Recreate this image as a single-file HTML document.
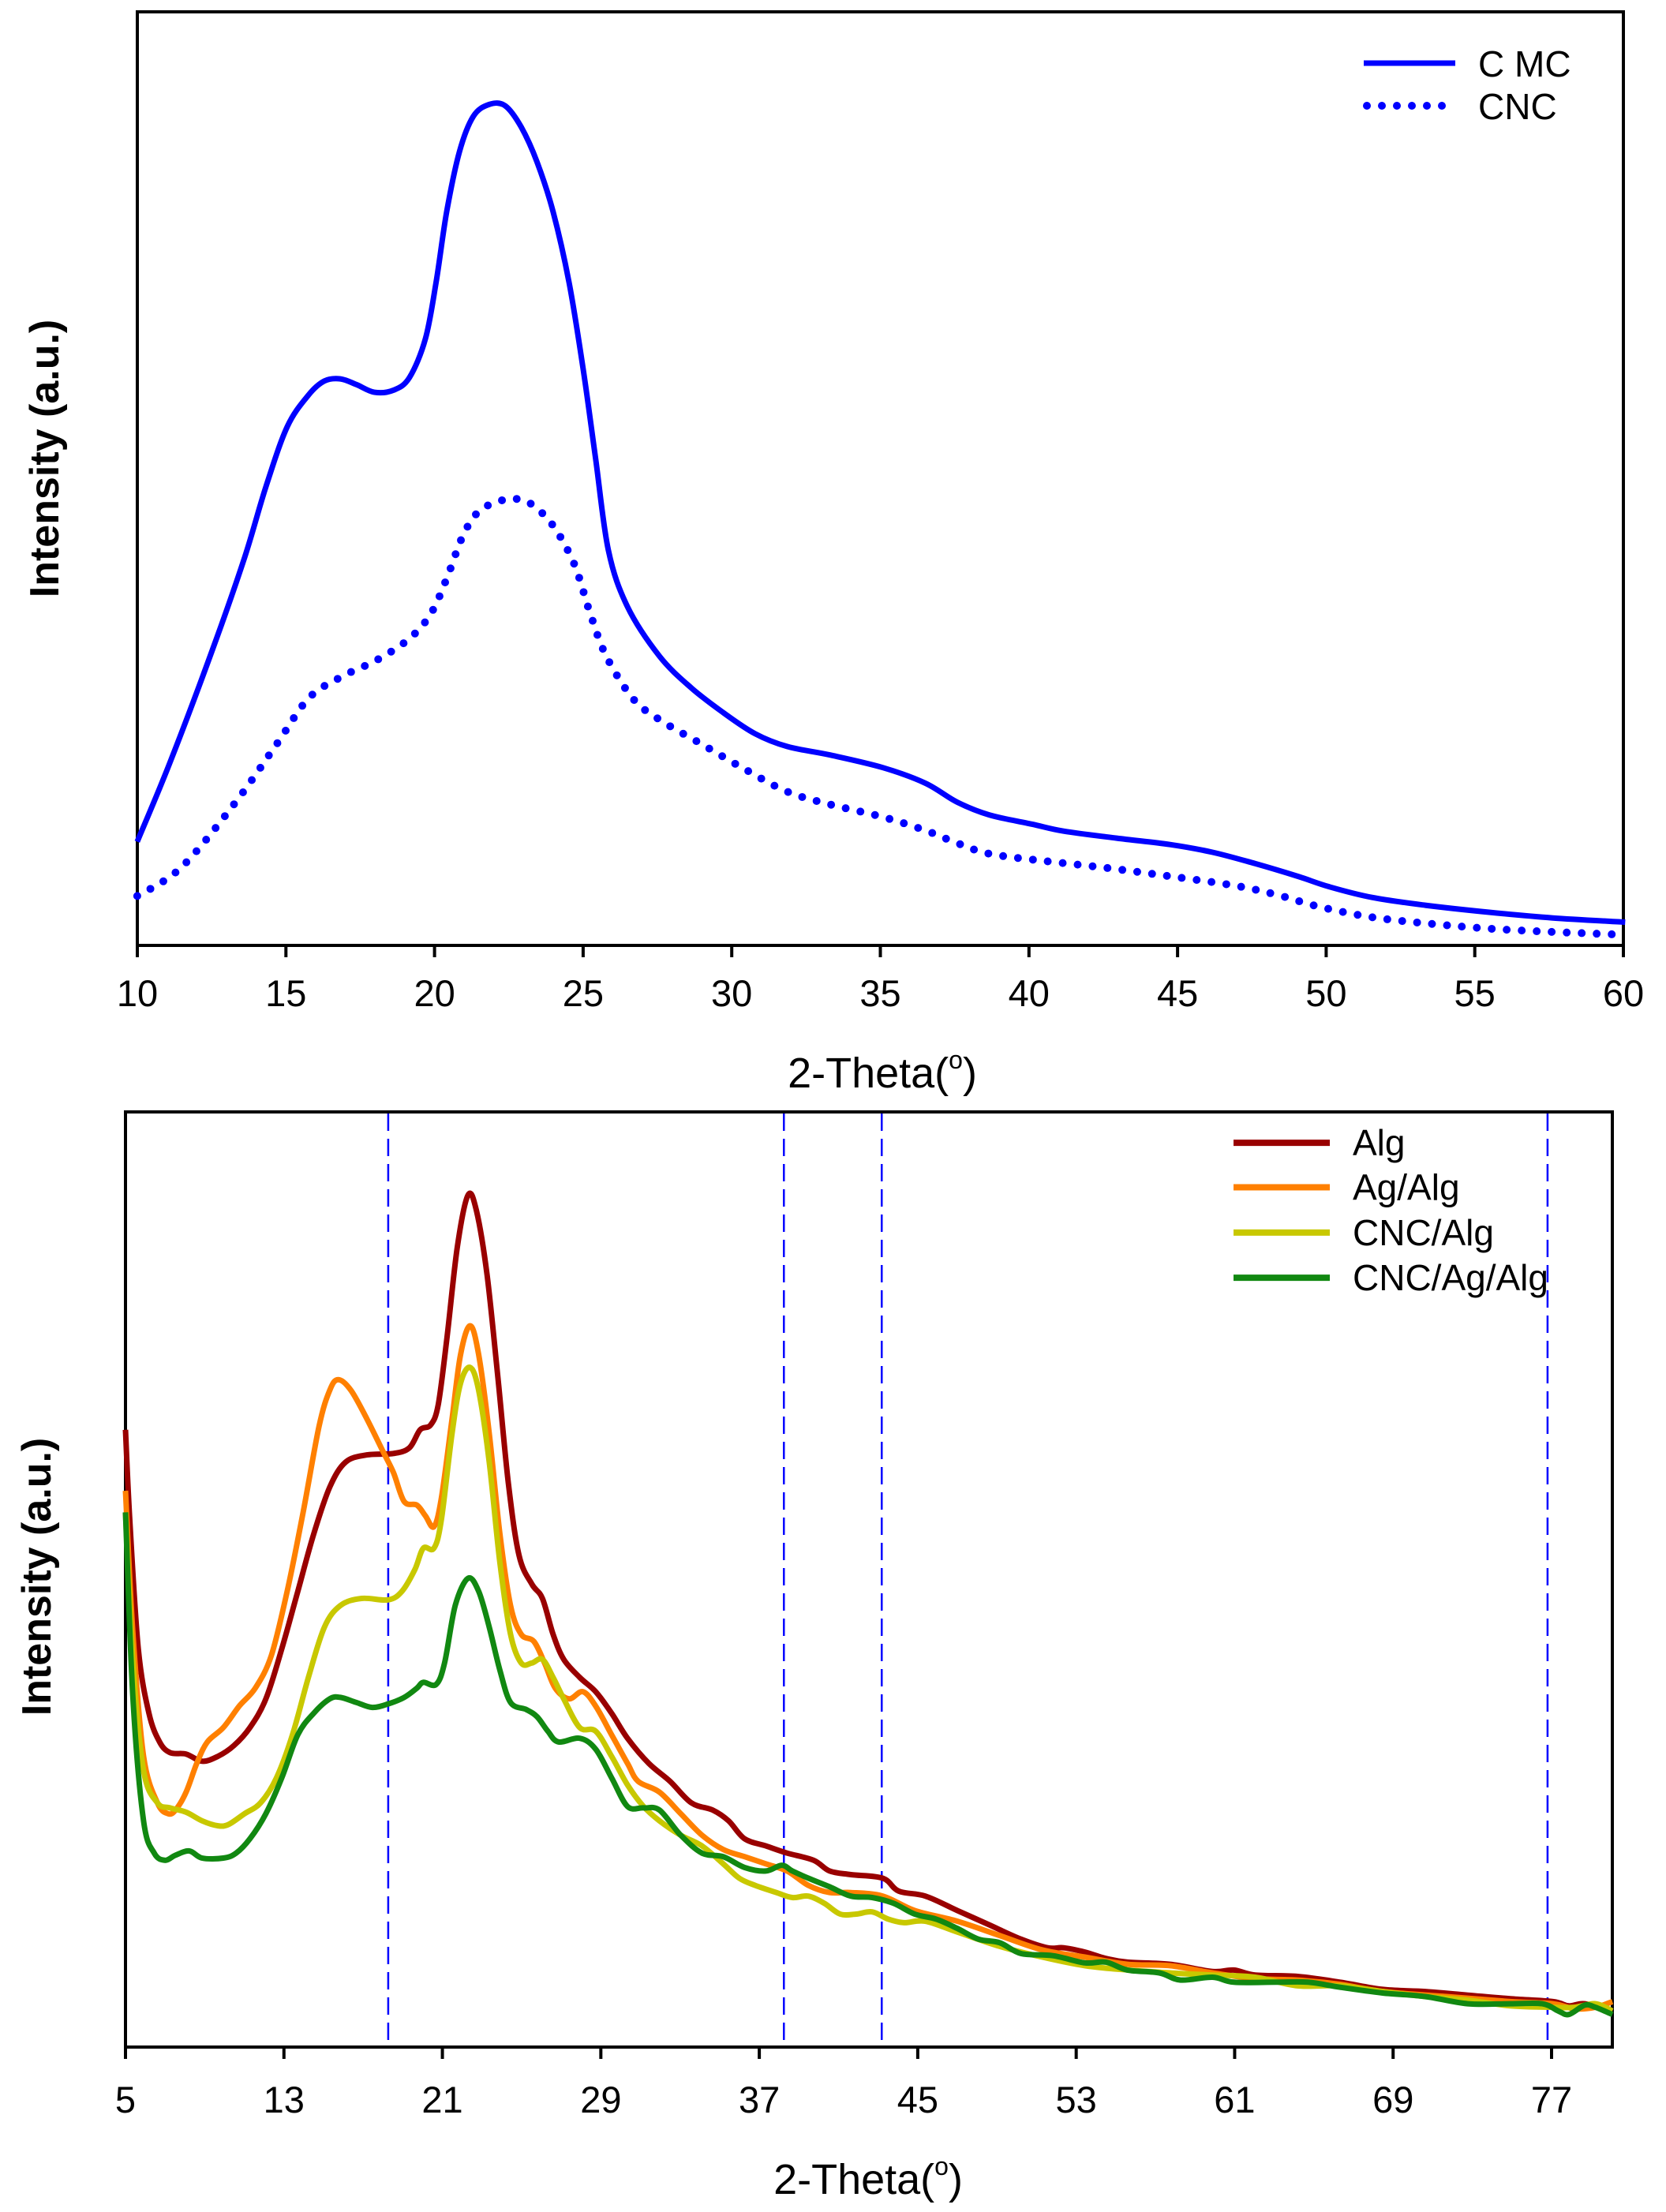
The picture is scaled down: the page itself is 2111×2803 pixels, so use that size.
<!DOCTYPE html>
<html><head><meta charset="utf-8">
<style>
html,body{margin:0;padding:0;background:#fff;}
svg{display:block;}
text{font-family:"Liberation Sans",Arial,sans-serif;fill:#000;}
</style></head>
<body>
<svg id="s" width="2111" height="2803" viewBox="0 0 2111 2803" xmlns="http://www.w3.org/2000/svg">
<rect x="0" y="0" width="2111" height="2803" fill="#fff"/>
<rect x="174" y="15" width="1883" height="1183" fill="none" stroke="#000" stroke-width="4"/>
<g id="topticks" stroke="#000" stroke-width="4"></g>
<g font-size="47" text-anchor="middle" id="toplabels"></g>
<text x="1118" y="1378" font-size="54" text-anchor="middle">2-Theta(<tspan font-size="32" dy="-24">o</tspan><tspan dy="24">)</tspan></text>
<text transform="translate(74,581) rotate(-90)" font-size="52" font-weight="bold" text-anchor="middle">Intensity (a.u.)</text>
<line x1="1728" y1="80" x2="1844" y2="80" stroke="#0000ff" stroke-width="7"/>
<line x1="1732" y1="134" x2="1844" y2="134" stroke="#0000ff" stroke-width="10" stroke-linecap="round" stroke-dasharray="0 19"/>
<text x="1873" y="97" font-size="46">C MC</text>
<text x="1873" y="151" font-size="46">CNC</text>
<g id="topcurves"></g>

<rect x="159" y="1409" width="1884" height="1185" fill="none" stroke="#000" stroke-width="4"/>
<g id="botticks" stroke="#000" stroke-width="4"></g>
<g font-size="47" text-anchor="middle" id="botlabels"></g>
<text x="1100" y="2780" font-size="54" text-anchor="middle">2-Theta(<tspan font-size="32" dy="-24">o</tspan><tspan dy="24">)</tspan></text>
<text transform="translate(64,1998) rotate(-90)" font-size="52" font-weight="bold" text-anchor="middle">Intensity (a.u.)</text>
<g id="vlines" stroke="#0000ff" stroke-width="2.5" stroke-dasharray="22 10"></g>
<g id="botcurves"></g>
<g id="botlegend"></g>
</svg>
<script>
var NS="http://www.w3.org/2000/svg";
function el(p,t,a){var e=document.createElementNS(NS,t);for(var k in a)e.setAttribute(k,a[k]);p.appendChild(e);return e;}
function smooth(pts){var d="M"+pts[0][0].toFixed(1)+","+pts[0][1].toFixed(1);
 for(var i=0;i<pts.length-1;i++){var p0=pts[i-1]||pts[i],p1=pts[i],p2=pts[i+1],p3=pts[i+2]||p2;
  var c1=[p1[0]+(p2[0]-p0[0])/6,p1[1]+(p2[1]-p0[1])/6],c2=[p2[0]-(p3[0]-p1[0])/6,p2[1]-(p3[1]-p1[1])/6];
  d+="C"+c1[0].toFixed(1)+","+c1[1].toFixed(1)+" "+c2[0].toFixed(1)+","+c2[1].toFixed(1)+" "+p2[0].toFixed(1)+","+p2[1].toFixed(1);}
 return d;}
function conv(a,sx,sy,oy){var r=[];for(var i=0;i<a.length;i+=2)r.push([a[i]/sx,oy+a[i+1]/sy]);return r;}
var tt=document.getElementById("topticks"),tl=document.getElementById("toplabels");
for(var v=10;v<=60;v+=5){var x=174+(v-10)*(2057-174)/50;el(tt,"line",{x1:x,y1:1198,x2:x,y2:1213});var t=el(tl,"text",{x:x,y:1275});t.textContent=v;}
var cmc=[129,1193,160,1080,200,920,230,790,250,690,270,605,290,560,305,540,320,537,335,545,352,556,370,553,385,535,400,480,410,400,420,300,432,215,445,165,460,148,475,150,490,180,505,230,520,300,535,400,548,520,560,650,572,780,590,860,620,930,650,975,680,1010,710,1040,740,1058,780,1070,830,1088,870,1110,900,1137,930,1155,970,1168,1000,1178,1050,1188,1100,1197,1140,1208,1180,1224,1220,1242,1250,1257,1290,1272,1340,1283,1400,1293,1460,1301,1528,1307];
var cnc=[129,1270,170,1230,220,1140,260,1055,290,990,320,960,355,935,385,905,405,870,420,820,435,760,450,725,470,710,485,707,500,715,520,745,540,800,555,870,570,930,595,990,620,1020,660,1055,700,1090,740,1122,780,1140,830,1158,870,1177,900,1195,930,1210,980,1220,1040,1230,1100,1242,1160,1255,1200,1268,1240,1285,1290,1300,1350,1310,1420,1318,1528,1325];
var tc=document.getElementById("topcurves");
el(tc,"path",{d:smooth(conv(cmc,0.742,1.1185,0)),fill:"none",stroke:"#0000ff","stroke-width":7,"stroke-linejoin":"round"});
el(tc,"path",{d:smooth(conv(cnc,0.742,1.1185,0)),fill:"none",stroke:"#0000ff","stroke-width":10,"stroke-linecap":"round","stroke-dasharray":"0 19"});
var bt=document.getElementById("botticks"),bl=document.getElementById("botlabels");
for(var v=5;v<=77;v+=8){var x=159+(v-5)*(1966-159)/72;el(bt,"line",{x1:x,y1:2594,x2:x,y2:2609});var t=el(bl,"text",{x:x,y:2677});t.textContent=v;}
var vl=document.getElementById("vlines");
[365,737,829,1455].forEach(function(d){var x=d/0.742;el(vl,"line",{x1:x,y1:1411,x2:x,y2:2592});});
var S={
alg:[118,475,122,600,130,780,140,870,150,910,160,925,175,927,190,937,205,930,220,915,235,890,250,850,265,780,280,700,295,620,310,555,325,520,345,510,370,508,385,500,395,475,405,468,412,440,420,350,430,220,440,148,448,170,458,260,468,400,478,550,488,650,500,690,510,710,520,760,530,795,545,820,560,840,575,870,590,905,610,940,630,965,650,995,670,1005,685,1020,700,1045,720,1055,740,1065,765,1075,780,1090,800,1095,830,1100,845,1118,870,1125,900,1145,930,1165,960,1185,985,1197,1000,1197,1020,1203,1040,1212,1060,1217,1100,1220,1140,1230,1160,1228,1180,1235,1220,1237,1260,1245,1300,1255,1340,1258,1380,1263,1420,1268,1460,1272,1475,1278,1490,1275,1516,1285],
ag:[118,560,125,760,135,930,148,995,158,1010,165,1005,175,980,185,940,195,910,210,890,225,860,240,835,255,790,270,700,285,590,300,470,310,420,318,405,330,420,345,460,360,505,370,535,380,575,392,580,400,595,408,610,415,570,425,460,433,370,442,330,450,370,460,480,470,620,480,720,490,760,502,770,512,800,522,835,535,850,548,840,560,860,575,900,590,940,600,965,620,980,640,1010,660,1040,680,1060,700,1070,720,1080,740,1090,760,1110,780,1120,800,1120,830,1125,860,1145,900,1160,940,1180,980,1200,1020,1210,1060,1220,1100,1222,1140,1232,1180,1240,1220,1242,1260,1248,1300,1258,1360,1265,1420,1272,1460,1275,1480,1282,1500,1280,1516,1272],
cncalg:[118,590,125,800,135,950,148,995,160,1002,175,1008,190,1020,205,1027,215,1025,230,1010,245,995,260,960,275,900,290,820,305,750,320,720,340,710,365,712,378,700,390,670,398,640,408,640,415,600,425,480,433,410,442,388,450,420,460,520,470,660,480,760,490,800,500,800,510,795,520,820,530,850,545,890,560,895,575,930,590,970,605,1000,620,1020,640,1040,660,1055,680,1080,695,1100,710,1110,730,1120,745,1127,760,1125,775,1135,790,1150,805,1150,820,1147,835,1157,850,1162,870,1160,900,1175,940,1195,980,1210,1020,1222,1060,1228,1100,1232,1140,1235,1180,1238,1220,1250,1260,1250,1300,1258,1340,1265,1380,1270,1420,1278,1460,1280,1480,1280,1500,1275,1516,1285],
cag:[118,590,125,850,135,1020,145,1065,155,1075,165,1068,178,1062,190,1072,210,1072,222,1065,235,1045,250,1010,265,960,280,900,295,870,310,850,320,848,335,855,350,862,365,857,380,848,392,835,398,827,410,830,418,800,428,720,440,682,450,700,460,750,470,810,480,855,495,865,505,875,515,895,525,910,545,905,560,920,575,960,590,1000,605,1002,620,1005,640,1040,660,1065,680,1070,700,1085,720,1090,735,1082,745,1090,760,1100,780,1112,800,1125,820,1127,840,1135,860,1150,880,1157,900,1170,920,1185,940,1190,960,1205,990,1208,1020,1218,1040,1217,1060,1228,1090,1232,1110,1242,1140,1238,1160,1245,1200,1245,1230,1245,1260,1252,1300,1260,1340,1265,1380,1275,1420,1275,1450,1275,1465,1285,1475,1290,1490,1277,1500,1280,1516,1290]};
var cols={alg:"#990000",ag:"#ff8000",cncalg:"#c8c800",cag:"#118811"};
var bc=document.getElementById("botcurves");
["alg","ag","cncalg","cag"].forEach(function(k){el(bc,"path",{d:smooth(conv(S[k],0.742,1.1,1380)),fill:"none",stroke:cols[k],"stroke-width":7,"stroke-linejoin":"round"});});
var lg=document.getElementById("botlegend");
var names=["Alg","Ag/Alg","CNC/Alg","CNC/Ag/Alg"],ks=["alg","ag","cncalg","cag"],ys=[75,137,200,263];
for(var i=0;i<4;i++){var y=1380+ys[i]/1.1;el(lg,"line",{x1:1563,y1:y,x2:1685,y2:y,stroke:cols[ks[i]],"stroke-width":8});var t=el(lg,"text",{x:1714,y:y+16,"font-size":46});t.textContent=names[i];}
</script>
</body></html>
